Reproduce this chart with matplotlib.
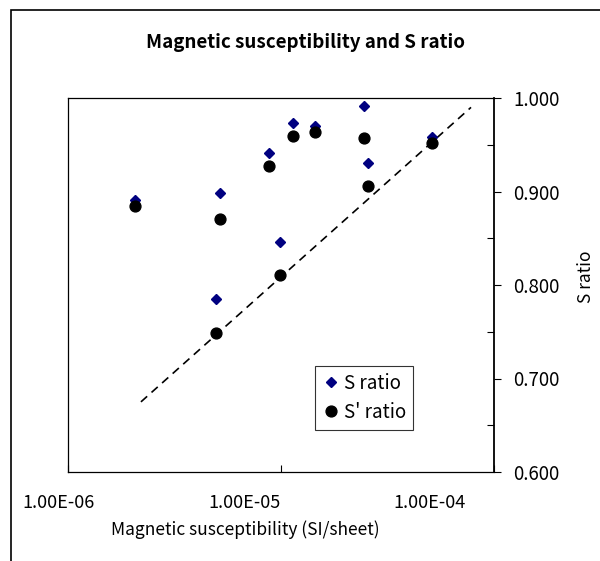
import matplotlib
matplotlib.use("Agg")
import matplotlib.pyplot as plt
import matplotlib.transforms as mtransforms
from matplotlib.patches import Rectangle
from matplotlib.ticker import FixedLocator, MultipleLocator

plt.rcParams["font.family"] = ["Noto Sans CJK JP", "DejaVu Sans"]

# magnetic susceptibility (SI/sheet)
susceptibility = [2.06e-6, 5.17e-6, 8.81e-6, 1.135e-5, 1.44e-5,
                  2.45e-5, 2.57e-5, 5.10e-5, 9.9e-6, 4.94e-6]
s_ratio = [0.891, 0.898, 0.941, 0.973, 0.970,
           0.991, 0.930, 0.958, 0.846, 0.785]
s_prime_ratio = [0.884, 0.871, 0.927, 0.959, 0.964,
                 0.957, 0.906, 0.952, 0.811, 0.749]

# reference (dashed) line
ref_x = [2.2e-6, 7.8e-5]
ref_y = [0.675, 0.990]

x_ticks = [1e-6, 1e-5, 1e-4]
x_tick_labels = ["1.00E-06", "1.00E-05", "1.00E-04"]
y_ticks = [0.6, 0.7, 0.8, 0.9, 1.0]

fig = plt.figure(figsize=(6.0, 5.61), dpi=100)
ax = fig.add_axes([68 / 600, 1 - 472 / 561, 426 / 600, 374 / 561])

# outer chart border (left and top visible)
fig.patches.append(Rectangle((11 / 600, -0.1), 1.2, 1 - 10 / 561 + 0.1,
                             transform=fig.transFigure, fill=False,
                             edgecolor="black", linewidth=1.2))

ax.plot(ref_x, ref_y, linestyle=(0, (5, 3.5)), color="black", linewidth=1.2)
ax.plot(susceptibility, s_ratio, linestyle="none", marker="D",
        markersize=5, color="#000080", label="S ratio")
ax.plot(susceptibility, s_prime_ratio, linestyle="none", marker="o",
        markersize=7.8, color="black", label="S' ratio")

ax.set_xscale("log")
ax.set_xlim(1e-6, 1e-4)
ax.set_ylim(0.6, 1.0)

ax.xaxis.set_major_locator(FixedLocator(x_ticks))
ax.xaxis.set_minor_locator(FixedLocator([]))
ax.set_xticklabels(x_tick_labels)
ax.tick_params(axis="x", direction="in", length=5, width=0.8, labelsize=13, pad=16)

# Excel squeezes the category labels slightly to the left
for lbl, dx in zip(ax.get_xticklabels(), [-10, -36, -64]):
    lbl.set_transform(lbl.get_transform() +
                      mtransforms.ScaledTranslation(dx / 100, 0, fig.dpi_scale_trans))

ax.yaxis.tick_right()
ax.yaxis.set_label_position("right")
ax.set_yticks(y_ticks)
ax.set_yticklabels([f"{v:.3f}" for v in y_ticks])
ax.yaxis.set_minor_locator(MultipleLocator(0.05))
ax.tick_params(axis="y", which="major", direction="out", length=5, width=0.8,
               labelsize=13.5, pad=9)
ax.tick_params(axis="y", which="minor", direction="in", length=5, width=0.8)

for side in ["left", "bottom", "top"]:
    ax.spines[side].set_linewidth(0.9)
ax.spines["right"].set_linewidth(1.3)

ax.set_xlabel("Magnetic susceptibility (SI/sheet)", fontsize=12.5)
ax.xaxis.set_label_coords((245 - 68) / 426, -(530 - 472) / 374)
ax.xaxis.label.set_va("center")
ax.set_ylabel("S ratio", fontsize=12.5)
ax.yaxis.set_label_coords((586 - 68) / 426, (472 - 277) / 374)
ax.yaxis.label.set_va("center")

fig.text(305 / 600, 1 - 42 / 561, "Magnetic susceptibility and S ratio",
         ha="center", va="center", fontsize=13.5, fontweight="bold")

leg = ax.legend(loc="upper left", bbox_to_anchor=((315 - 68) / 426, (472 - 366) / 374),
                fontsize=13.5, frameon=True, fancybox=False, borderpad=0.35,
                handletextpad=0.2, handlelength=1.0, labelspacing=0.45,
                borderaxespad=0)
leg.get_frame().set_edgecolor("black")
leg.get_frame().set_linewidth(0.8)

fig.savefig("out.png", dpi=100)
